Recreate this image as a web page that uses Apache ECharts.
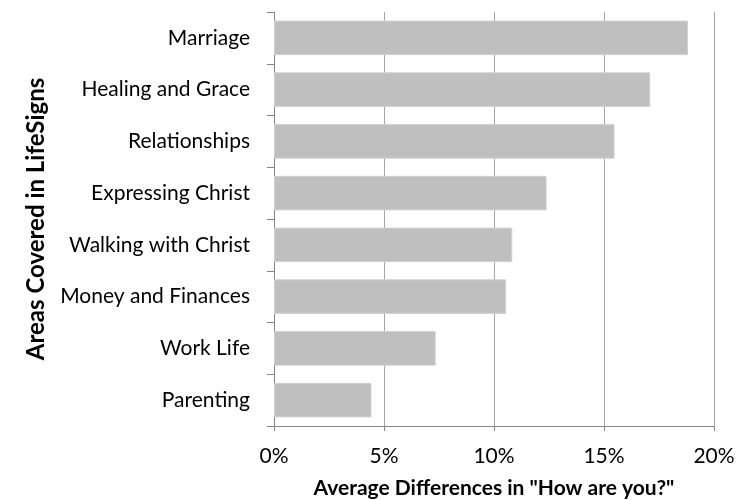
<!DOCTYPE html>
<html><head><meta charset="utf-8">
<script src="https://cdn.jsdelivr.net/npm/echarts@6/dist/echarts.min.js"></script>
<style>html,body{margin:0;padding:0;background:#fff}#c{width:746px;height:500px}</style>
</head><body><div id="c"></div>
<script>
var categories = ["Marriage","Healing and Grace","Relationships","Expressing Christ","Walking with Christ","Money and Finances","Work Life","Parenting"];
var values = [18.82, 17.1, 15.48, 12.39, 10.83, 10.55, 7.35, 4.43];
var xTicks = [0, 5, 10, 15, 20];
var FONT = "Lato, 'Open Sans', sans-serif";
var chart = echarts.init(document.getElementById('c'), null, {renderer:'canvas'});
chart.setOption({
  animation:false,
  grid:{left:274, right:32, top:12, bottom:74, containLabel:false, outerBoundsMode:'none'},
  xAxis:{
    type:'value', min:xTicks[0], max:xTicks[xTicks.length-1], interval:5,
    name:'Average Differences in "How are you?"', nameLocation:'middle', nameGap:52,
    nameTextStyle:{fontFamily:FONT, fontSize:21, fontWeight:'bold', color:'#000'},
    axisLine:{show:true, lineStyle:{color:'#868686', width:1}},
    axisTick:{show:true, length:5, lineStyle:{color:'#868686'}},
    axisLabel:{formatter:'{value}%', fontFamily:FONT, fontSize:21, color:'#000', margin:20},
    splitLine:{show:true, lineStyle:{color:'#a6a6a6', width:1}}
  },
  yAxis:{
    type:'category', data:categories, inverse:true,
    name:'Areas Covered in LifeSigns', nameLocation:'middle', nameGap:226,
    nameTextStyle:{fontFamily:FONT, fontSize:24, fontWeight:'bold', color:'#000'},
    axisLine:{show:true, lineStyle:{color:'#868686', width:1}},
    axisTick:{show:true, length:7, lineStyle:{color:'#868686'}},
    axisLabel:{fontFamily:FONT, fontSize:21, color:'#000', margin:24},
    splitLine:{show:false}
  },
  series:[{
    type:'bar', data:values, barCategoryGap:'33.3%',
    itemStyle:{color:'#bfbfbf', borderColor:'#d0d0d0', borderWidth:1}
  }]
});
</script></body></html>
